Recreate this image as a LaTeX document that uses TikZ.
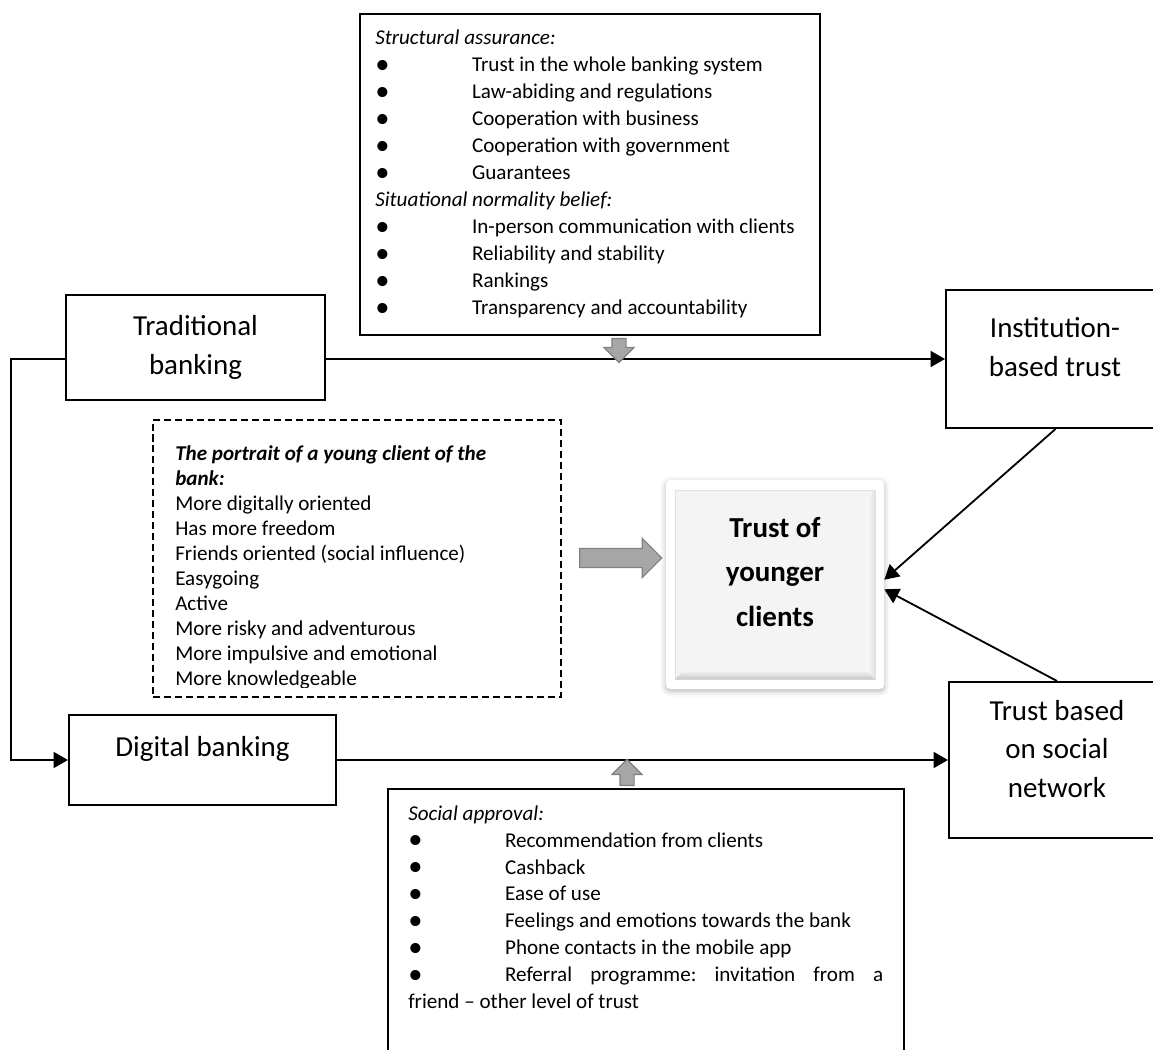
\documentclass[tikz,border=0pt]{standalone}
\usepackage{fontspec}
\setmainfont{Carlito}
\usepackage{tikz}
\usetikzlibrary{arrows.meta,positioning,shapes.arrows,shadows.blur}
\definecolor{ink}     {HTML}{000000}
\definecolor{arrfill} {HTML}{A6A6A6}
\definecolor{arrdraw} {HTML}{808080}
\definecolor{bevelbg} {HTML}{F4F4F4}
\frenchspacing
\newcommand{\listsize}{\fontsize{15}{19.2}\selectfont}
\newcommand{\portraitsize}{\fontsize{15}{17.8}\selectfont}
\newcommand{\boxsize}{\fontsize{20.6}{27.3}\selectfont}
\newcommand{\bulitem}{\makebox[2.42cm][l]{\raisebox{-0.06em}{\scalebox{1.35}{\textbullet}}}}
\tikzset{
  mainbox/.style  ={draw=ink, line width=1.4pt, fill=white,
                    align=center, font=\boxsize, inner sep=0pt},
  listbox/.style  ={draw=ink, line width=1.4pt, fill=white},
  dashbox/.style  ={draw=ink, line width=1.2pt, dash pattern=on 5pt off 2.8pt},
  listtext/.style ={inner sep=0pt, anchor=base west, font=\listsize},
  bigtext/.style  ={align=center, font=\boxsize, inner sep=0pt},
  flowarr/.style  ={-{Triangle[length=0.36cm,width=0.4cm]}, line width=1.3pt, draw=ink},
  blockarr/.style ={single arrow, draw=arrdraw, fill=arrfill, line width=0.8pt,
                    inner sep=0pt, single arrow head extend=0.2cm,
                    single arrow head indent=0pt},
}
\begin{document}
\begin{tikzpicture}[x=0.025cm,y=-0.025cm]
  \useasboundingbox (0,0) rectangle (1153,1050);
  % banking channels and trust types
  \node[mainbox, minimum width=6.475cm, minimum height=2.625cm] (trad) at (195.5,347.5) {Traditional\\banking};
  \node[mainbox, minimum width=6.675cm, minimum height=2.25cm] (digi) at (202.5,760) {};
  \node[bigtext] (digitext) at (202.5,749) {Digital banking};
  \node[mainbox, minimum width=5.475cm, minimum height=3.45cm] (inst) at (1055.5,359) {};
  \node[bigtext] (insttext) at (1055,347) {Institution-\\based trust};
  \node[mainbox, minimum width=5.4cm, minimum height=3.9cm] (soc) at (1057,760) {};
  \node[bigtext] (soctext) at (1057,749) {Trust based\\on social\\network};

  % lists
  \node[listbox, minimum width=11.5cm, minimum height=8.025cm] (assure) at (590,174.5) {};
  \node[listtext] (assuretext) at (375,45) {\parbox[t]{11cm}{\listsize
    \textit{Structural assurance:}\\
    \bulitem Trust in the whole banking system\\
    \bulitem Law-abiding and regulations\\
    \bulitem Cooperation with business\\
    \bulitem Cooperation with government\\
    \bulitem Guarantees\\
    \textit{Situational normality belief:}\\
    \bulitem In-person communication with clients\\
    \bulitem Reliability and stability\\
    \bulitem Rankings\\
    \bulitem Transparency and accountability}};
  \node[listbox, minimum width=12.9cm, minimum height=6.9cm] (approval) at (646,927) {};
  \node[listtext] (approvaltext) at (408,820) {\parbox[t]{12cm}{\listsize
    \textit{Social approval:}\\
    \bulitem Recommendation from clients\\
    \bulitem Cashback\\
    \bulitem Ease of use\\
    \bulitem Feelings and emotions towards the bank\\
    \bulitem Phone contacts in the mobile app\\
    \bulitem\makebox[9.45cm][s]{Referral programme: invitation from a}\\
    friend -- other level of trust}};
  \begin{scope}
    \clip (153,420) rectangle (561,687);
    \node[listtext] (portraittext) at (175,460) {\parbox[t]{9.6cm}{\portraitsize
      \textbf{\textit{The portrait of a young client of the\\bank:}}\\
      More digitally oriented\\
      Has more freedom\\
      Friends oriented (social influence)\\
      Easygoing\\
      Active\\
      More risky and adventurous\\
      More impulsive and emotional\\
      More knowledgeable}};
  \end{scope}
  \node[dashbox, minimum width=10.2cm, minimum height=6.925cm] (portrait) at (357,558.5) {};

  % centre
  \node[fill=white, rounded corners=3pt, minimum width=5.45cm, minimum height=5.225cm,
        blur shadow={shadow xshift=0pt, shadow yshift=-1.5pt, shadow blur radius=4pt, shadow opacity=30}]
        (youngglow) at (775,584.5) {};
  \node[fill=bevelbg, draw=gray!25, line width=0.6pt, minimum width=5cm, minimum height=4.725cm] (young) at (775,584.5) {};
  \shade[top color=gray!12, bottom color=gray!45] (young.south west) -- (young.south east)
    -- ([xshift=-0.2cm,yshift=0.2cm]young.south east) -- ([xshift=0.2cm,yshift=0.2cm]young.south west) -- cycle;
  \shade[left color=gray!6, right color=gray!25] (young.south east) -- (young.north east)
    -- ([xshift=-0.2cm,yshift=-0.2cm]young.north east) -- ([xshift=-0.2cm,yshift=0.2cm]young.south east) -- cycle;
  \node[bigtext, font=\bfseries\fontsize{20.6}{31.9}\selectfont] (youngtext) at (775,572) {Trust of\\younger\\clients};

  % connectors
  \draw[flowarr] (trad.east |- inst.west) -- (inst.west);
  \draw[flowarr] (trad.west |- inst.west) -- ++(-54,0) |- (digi.west);
  \draw[flowarr] (digi.east) -- (soc.west);
  \draw[flowarr] (inst.south) -- ([yshift=0.12cm]youngglow.east);
  \draw[flowarr] (soc.north) -- ([yshift=-0.12cm]youngglow.east);

  \node[blockarr, rotate=-90, minimum height=0.6cm] (assurearr) at (619,347) {\rule{0pt}{0.325cm}};
  \node[blockarr, rotate=90, minimum height=0.65cm] (approvalarr) at (627,776) {\rule{0pt}{0.325cm}};
  \node[blockarr, single arrow head extend=0.25cm, minimum height=2.05cm] (portraitarr) at (616,558) {\rule{0pt}{0.45cm}};
\end{tikzpicture}
\end{document}
